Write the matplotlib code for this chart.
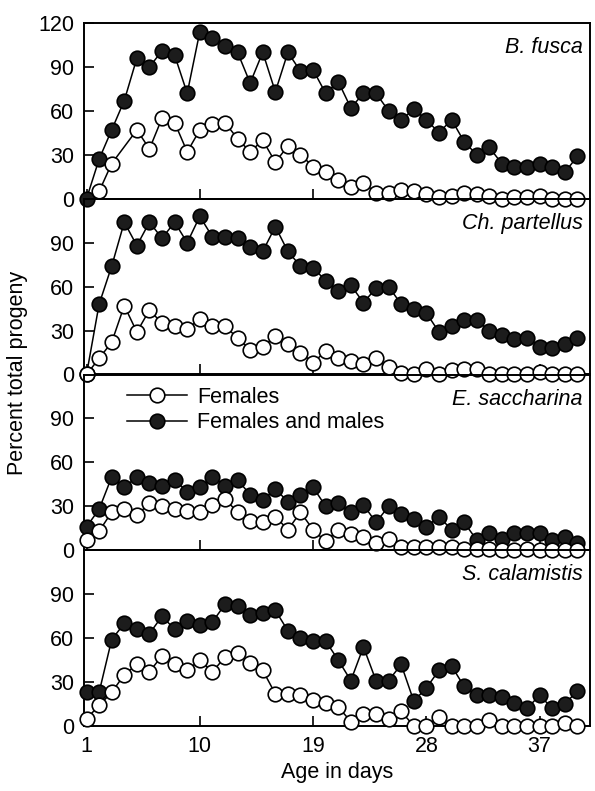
import numpy as np
import matplotlib
matplotlib.use("Agg")
from matplotlib import pyplot as plt

plt.rcParams["font.family"] = ["Liberation Sans", "DejaVu Sans"]

nan = float("nan")

DAYS : list[int] = list(range(1, 41))
X_TICKS : list[int] = [1, 10, 19, 28, 37]
SPECIES : list[str] = ["B. fusca", "Ch. partellus", "E. saccharina", "S. calamistis"]

# percent of total progeny, females only
FUSCA_F = [nan, 5, 24, nan, 47, 34, 55, 52, 32, 47, 51, 52, 41, 32, 40, 25, 36, 30, 22, 18,
           13, 8, 11, 4, 4, 6, 5, 3, 1, 2, 4, 3, 2, 0, 1, 1, 2, 0, 0, 0]
PARTELLUS_F = [0, 11, 22, 47, 29, 44, 35, 33, 31, 38, 33, 33, 25, 17, 19, 26, 21, 15, 8, 16,
               11, 9, 7, 11, 5, 1, 0, 4, 0, 3, 4, 4, 0, 0, 0, 0, 2, 0, 0, 0]
SACCHARINA_F = [7, 13, 26, 28, 24, 32, 30, 28, 27, 26, 31, 35, 26, 20, 19, 23, 14, 26, 14, 6,
                14, 11, 9, 5, 8, 2, 2, 2, 2, 2, 1, 1, 1, 0, 0, 1, 0, 0, 0, 0]
CALAMISTIS_F = [5, 14, 23, 35, 42, 37, 48, 42, 38, 45, 37, 47, 50, 43, 38, 22, 22, 21, 18, 16,
                13, 3, 8, 8, 5, 10, 0, 0, 6, 0, 0, 0, 4, 0, 0, 0, 0, 0, 2, 0]

# percent of total progeny, females and males
FUSCA_FM = [0, 27, 47, 67, 96, 90, 101, 98, 72, 114, 110, 104, 100, 79, 100, 73, 100, 87, 88, 72,
            80, 62, 72, 72, 60, 54, 61, 54, 45, 54, 39, 30, 35, 24, 22, 22, 24, 22, 18, 29]
PARTELLUS_FM = [0, 48, 74, 104, 88, 104, 93, 104, 90, 108, 94, 94, 93, 87, 84, 101, 84, 74, 73, 64,
                57, 61, 49, 59, 60, 48, 45, 42, 29, 33, 37, 37, 30, 27, 24, 25, 19, 18, 21, 25]
SACCHARINA_FM = [16, 28, 50, 43, 50, 46, 44, 48, 40, 43, 50, 44, 48, 38, 34, 42, 33, 38, 43, 30,
                 32, 26, 31, 19, 30, 25, 21, 16, 23, 14, 19, 7, 12, 8, 12, 12, 12, 7, 9, 5]
CALAMISTIS_FM = [23, 23, 59, 70, 66, 63, 75, 66, 72, 69, 71, 83, 82, 76, 77, 79, 65, 60, 58, 58,
                 45, 31, 54, 31, 31, 42, 17, 26, 38, 41, 27, 21, 21, 20, 16, 12, 21, 12, 15, 24]

FEMALES = [FUSCA_F, PARTELLUS_F, SACCHARINA_F, CALAMISTIS_F]
BOTH = [FUSCA_FM, PARTELLUS_FM, SACCHARINA_FM, CALAMISTIS_FM]

FS = 15.5


def series(ax, vals, face, z, label):
    x = np.array(DAYS, dtype=float)
    y = np.array(vals, dtype=float)
    m = ~np.isnan(y)
    return ax.plot(x[m], y[m], color="black", lw=1.1, marker="o", ms=10.5,
                   mfc=face, mec="black", mew=1.2, clip_on=False, zorder=z,
                   label=label)[0]


def main() -> None:
    W, H = 595, 791
    fig = plt.figure(figsize=(W / 100, H / 100), dpi=100)
    left, right = 84 / W, 590 / W
    top, bottom = 1 - 23 / H, 1 - 726 / H
    ph = (top - bottom) / 4

    for i, name in enumerate(SPECIES):
        ax = fig.add_axes([left, top - (i + 1) * ph, right - left, ph])
        ax.set_facecolor("none")
        h_both = series(ax, BOTH[i], "#1c1c1c", 3, "Females and males")
        h_fem = series(ax, FEMALES[i], "white", 4, "Females")

        ax.set_xlim(0.8, 41)
        ax.set_ylim(0, 120)
        ax.set_yticks([0, 30, 60, 90, 120] if i == 0 else [0, 30, 60, 90])
        ax.set_xticks(X_TICKS)
        ax.tick_params(direction="in", length=7, width=1.2, labelsize=FS, pad=7)
        if i < 3:
            ax.tick_params(axis="x", labelbottom=False)
        for sp in ax.spines.values():
            sp.set_linewidth(1.4)

        ax.text(0.985, 0.86, name, transform=ax.transAxes, ha="right", va="center",
                fontsize=FS, style="italic")

        if i == 2:
            ax.legend(handles=[h_fem, h_both], loc="upper left", bbox_to_anchor=(0.085, 0.93),
                      frameon=False, fontsize=FS, handlelength=2.8, handletextpad=0.45,
                      labelspacing=0.2, borderpad=0, borderaxespad=0)
        if i == 3:
            ax.set_xlabel("Age in days", fontsize=FS, labelpad=4)

    fig.text(18 / W, 1 - 373 / H, "Percent total progeny", rotation=90,
             ha="center", va="center", fontsize=FS)

    fig.savefig("out.png", dpi=100)


if __name__ == "__main__":
    main()
